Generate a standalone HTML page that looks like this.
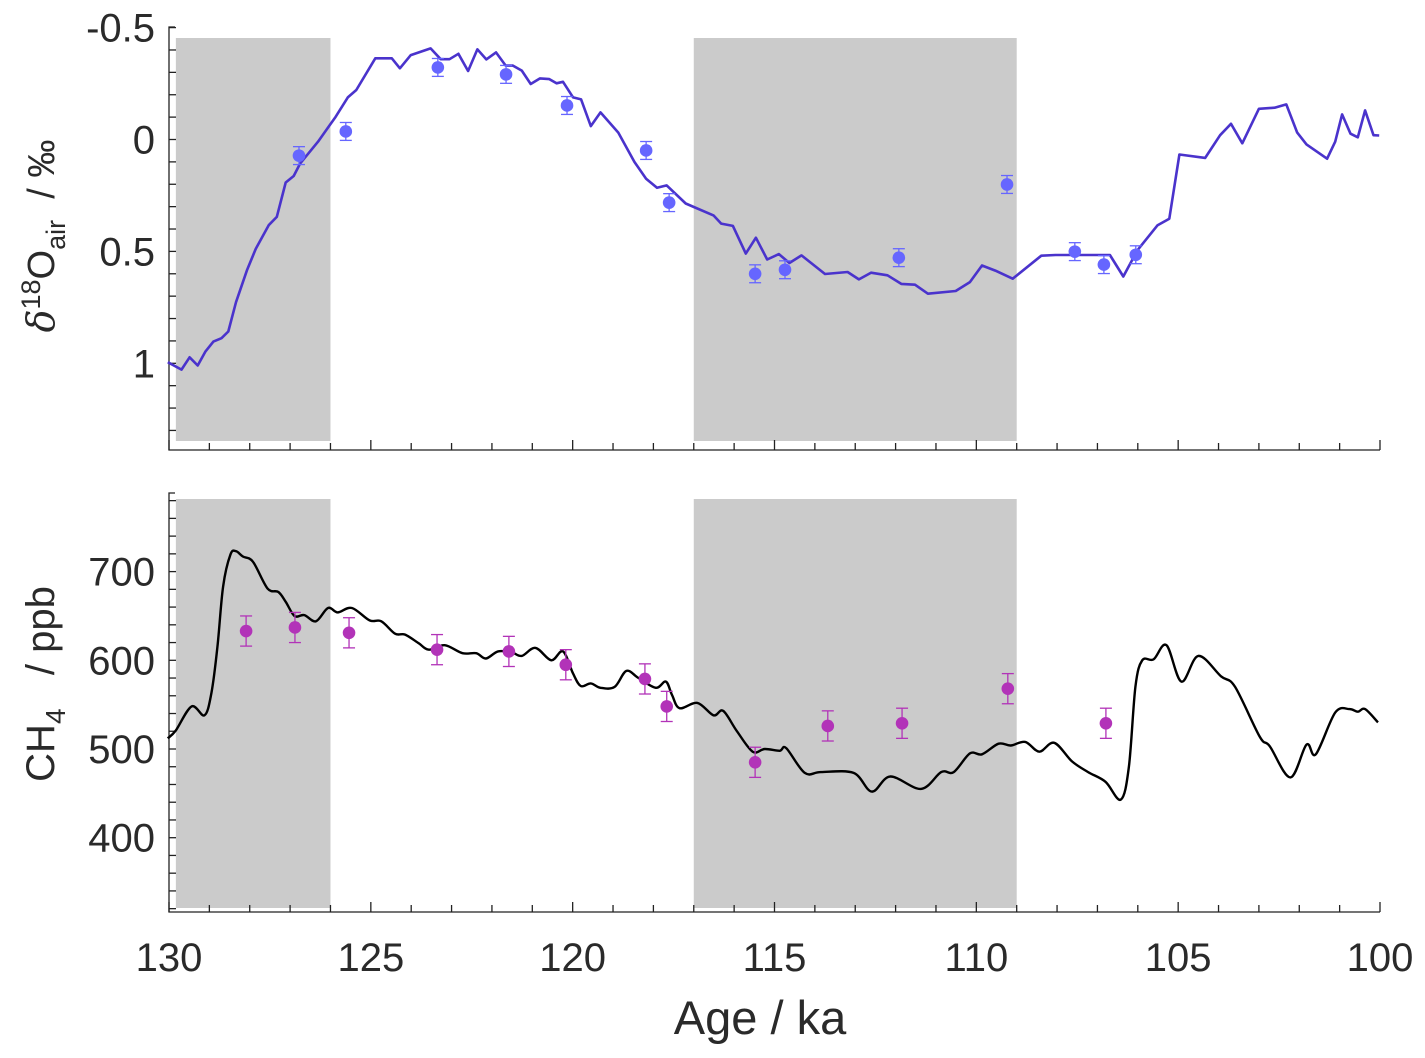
<!DOCTYPE html>
<html><head><meta charset="utf-8"><style>
html,body{margin:0;padding:0;background:#fff;}
svg{display:block;font-family:"Liberation Sans",Arial,sans-serif;}
</style></head><body>
<svg id="chart" width="1425" height="1058" viewBox="0 0 1425 1058" xmlns="http://www.w3.org/2000/svg">
<g id="top-panel"></g>
<g id="bot-panel"></g>
<text x="760" y="1034" text-anchor="middle" font-size="47" fill="#2a2a2a">Age / ka</text>
<text transform="translate(54,236) rotate(-90)" text-anchor="middle" font-size="38" fill="#2a2a2a"><tspan font-style="italic" font-family="'DejaVu Serif',serif">δ</tspan><tspan dy="-14" font-size="27">18</tspan><tspan dy="14">O</tspan><tspan dy="11" font-size="27">air</tspan><tspan dy="-11" xml:space="preserve">  / ‰</tspan></text>
<text transform="translate(54,684) rotate(-90)" text-anchor="middle" font-size="40" fill="#2a2a2a" xml:space="preserve">CH<tspan dy="11" font-size="28">4</tspan><tspan dy="-11">   / ppb</tspan></text>
</svg>
<script>
// ---- data ----
const stadialBands = [[129.83,126.0],[117.0,109.0]];
const d18oAges = [130.03,129.69,129.49,129.29,129.10,128.90,128.70,128.53,128.34,128.07,127.85,127.53,127.33,127.11,126.91,126.75,126.31,125.87,125.57,125.36,124.89,124.48,124.28,124.01,123.52,123.27,123.05,122.83,122.59,122.36,122.14,121.90,121.66,121.48,121.26,121.04,120.81,120.58,120.40,120.24,119.99,119.79,119.55,119.31,118.87,118.47,118.18,117.91,117.67,117.20,116.51,116.32,116.03,115.71,115.46,115.18,114.89,114.63,114.33,113.75,113.19,112.91,112.61,112.20,111.86,111.52,111.20,110.51,110.16,109.86,109.53,109.10,108.39,108.04,106.69,106.36,106.01,105.51,105.22,104.97,104.33,103.96,103.69,103.41,103.00,102.61,102.32,102.05,101.82,101.31,101.11,100.94,100.73,100.55,100.37,100.16,100.02];
const d18oValues = [0.995,1.028,0.973,1.010,0.948,0.903,0.888,0.858,0.727,0.585,0.488,0.383,0.346,0.192,0.163,0.107,0.010,-0.102,-0.188,-0.221,-0.363,-0.363,-0.318,-0.377,-0.407,-0.359,-0.359,-0.383,-0.306,-0.403,-0.358,-0.389,-0.330,-0.330,-0.308,-0.248,-0.273,-0.270,-0.251,-0.258,-0.188,-0.179,-0.060,-0.121,-0.031,0.100,0.175,0.216,0.205,0.286,0.339,0.376,0.386,0.510,0.439,0.536,0.512,0.552,0.518,0.601,0.592,0.625,0.595,0.607,0.645,0.649,0.689,0.677,0.637,0.563,0.586,0.622,0.519,0.516,0.516,0.612,0.495,0.383,0.354,0.067,0.082,-0.019,-0.070,0.017,-0.137,-0.142,-0.157,-0.031,0.022,0.086,0.010,-0.112,-0.026,-0.010,-0.130,-0.019,-0.018];
const d18oPtAges = [126.78,125.62,123.34,121.65,120.14,118.18,117.61,115.48,114.74,111.92,109.24,107.56,106.84,106.05];
const d18oPtValues = [0.072,-0.036,-0.322,-0.291,-0.152,0.049,0.282,0.600,0.582,0.528,0.201,0.501,0.559,0.515];
const d18oPtErr = [0.04,0.04,0.04,0.04,0.04,0.04,0.04,0.04,0.04,0.04,0.04,0.04,0.04,0.04];
const ch4Ages = [130.03,129.83,129.44,129.12,128.95,128.80,128.66,128.48,128.34,128.17,127.92,127.56,127.29,127.11,126.89,126.65,126.36,126.06,125.82,125.47,125.03,124.74,124.40,124.15,123.81,123.56,123.17,122.73,122.39,122.15,121.85,121.51,121.26,120.92,120.53,120.24,119.99,119.80,119.55,119.31,118.96,118.67,118.37,117.94,117.69,117.54,117.35,116.91,116.51,116.27,115.93,115.54,115.24,114.87,114.71,114.25,113.85,113.04,112.59,112.13,111.37,110.87,110.56,110.16,109.86,109.45,109.15,108.79,108.44,108.07,107.63,107.23,106.80,106.42,106.22,106.06,105.89,105.61,105.29,104.92,104.50,103.94,103.59,102.98,102.73,102.22,101.82,101.59,101.11,100.76,100.55,100.37,100.05];
const ch4Values = [512,521,548,538,563,615,683,719,723,717,711,681,677,666,650,651,644,659,654,659,645,644,630,629,619,612,617,608,608,602,610,609,605,614,600,610,585,571,574,569,570,588,580,569,576,561,546,552,538,543,520,497,500,498,501,473,474,473,452,469,455,474,474,495,494,506,504,508,497,507,486,474,463,443,480,570,600,601,617,576,605,582,570,514,503,468,505,494,541,545,542,545,530];
const ch4PtAges = [128.09,126.88,125.54,123.36,121.58,120.17,118.21,117.67,115.48,113.68,111.84,109.22,106.79];
const ch4PtValues = [633,637,631,612,610,595,579,548,485,526,529,568,529];
const ch4PtErr = [17,17,17,17,17,17,17,17,17,17,17,17,17];
const xTicks = [130,125,120,115,110,105,100];
const topTicks = [-0.5,0,0.5,1];
const botTicks = [400,500,600,700];

// ---- axes ----
const NS='http://www.w3.org/2000/svg';
const X0=169, X1=1380;
function xs(a){return X0+(130-a)*(X1-X0)/30;}
function yTop(v){return 27.6+(v+0.5)*223.8;}
function yBot(c){return 749-(c-500)*0.887;}
const TOP={y0:27,y1:450,b0:38,b1:441}, BOT={y0:493,y1:912,b0:499,b1:908};
function mk(tag,attrs,parent){const e=document.createElementNS(NS,tag);for(const k in attrs)e.setAttribute(k,attrs[k]);parent.appendChild(e);return e;}
const topG=document.getElementById('top-panel'), botG=document.getElementById('bot-panel');

function bands(g,P){
  stadialBands.forEach((b,i)=>{
    const r=mk('rect',{x:xs(b[0]),y:P.b0,width:xs(b[1])-xs(b[0]),height:P.b1-P.b0,fill:'#cbcbcb'},g);
    
    
  });
}
bands(topG,TOP); bands(botG,BOT);

function axes(g,P,yfun,minorStep,lo,hi,ticks,fmt,name,showX){
  const ax=mk('g',{stroke:'#222','stroke-width':1.3,fill:'none'},g);
  
  
  mk('path',{d:`M${X0+6},${P.y0}H${X0}V${P.y1}H${X1}`},ax);
  for(let v=lo;v<=hi+1e-9;v+=minorStep){const y=yfun(v);if(y<P.y0-0.5||y>P.y1+0.5)continue;mk('line',{x1:X0,x2:X0+7,y1:y,y2:y},ax);}
  for(let a=130;a>=100;a--){const x=xs(a);const len=(a%5===0)?10:7;mk('line',{x1:x,x2:x,y1:P.y1,y2:P.y1-len},ax);}
  ticks.forEach(v=>{const t=mk('text',{x:155,y:yfun(v)+14,'text-anchor':'end','font-size':40,fill:'#2a2a2a',stroke:'none'},g);t.textContent=fmt(v);
    
    });
  if(showX){xTicks.forEach(a=>{const t=mk('text',{x:xs(a),y:P.y1+59,'text-anchor':'middle','font-size':40,fill:'#2a2a2a'},g);t.textContent=a;
    
    });}
}
axes(topG,TOP,yTop,0.1,-0.5,1.4,topTicks,v=>String(v),'d18o',false);
axes(botG,BOT,yBot,20,320,780,botTicks,v=>String(v),'ch4',true);

// top line
let d=d18oAges.map((a,i)=>(i?'L':'M')+xs(a).toFixed(1)+','+yTop(d18oValues[i]).toFixed(1)).join('');
const tl=mk('path',{d:d,fill:'none',stroke:'#4a33cc','stroke-width':2.6,'stroke-linejoin':'round'},topG);



// smooth ch4 line (Catmull-Rom)
const pts=ch4Ages.map((a,i)=>[xs(a),yBot(ch4Values[i])]);
let s='M'+pts[0][0]+','+pts[0][1];
for(let i=0;i<pts.length-1;i++){const p0=pts[Math.max(0,i-1)],p1=pts[i],p2=pts[i+1],p3=pts[Math.min(pts.length-1,i+2)];
  const c1=[p1[0]+(p2[0]-p0[0])/6,p1[1]+(p2[1]-p0[1])/6],c2=[p2[0]-(p3[0]-p1[0])/6,p2[1]-(p3[1]-p1[1])/6];
  s+=`C${c1[0].toFixed(1)},${c1[1].toFixed(1)} ${c2[0].toFixed(1)},${c2[1].toFixed(1)} ${p2[0].toFixed(1)},${p2[1].toFixed(1)}`;}
const bl=mk('path',{d:s,fill:'none',stroke:'#000','stroke-width':2.4},botG);



function points(g,ages,vals,errs,yfun,color,name){
  ages.forEach((a,i)=>{
    const x=xs(a),y=yfun(vals[i]),yh=yfun(vals[i]+errs[i]),yl=yfun(vals[i]-errs[i]);
    const grp=mk('g',{stroke:color,'stroke-width':1.3},g);
    
    
    mk('line',{x1:x,x2:x,y1:yh,y2:yl},grp);
    mk('line',{x1:x-6,x2:x+6,y1:yh,y2:yh},grp);
    mk('line',{x1:x-6,x2:x+6,y1:yl,y2:yl},grp);
    mk('circle',{cx:x,cy:y,r:6.3,fill:color,stroke:'none'},grp);
  });
}
points(topG,d18oPtAges,d18oPtValues,d18oPtErr,yTop,'#6666ff','d18o-measurement');
points(botG,ch4PtAges,ch4PtValues,ch4PtErr,yBot,'#b233b8','ch4-measurement');
</script>
</body></html>
